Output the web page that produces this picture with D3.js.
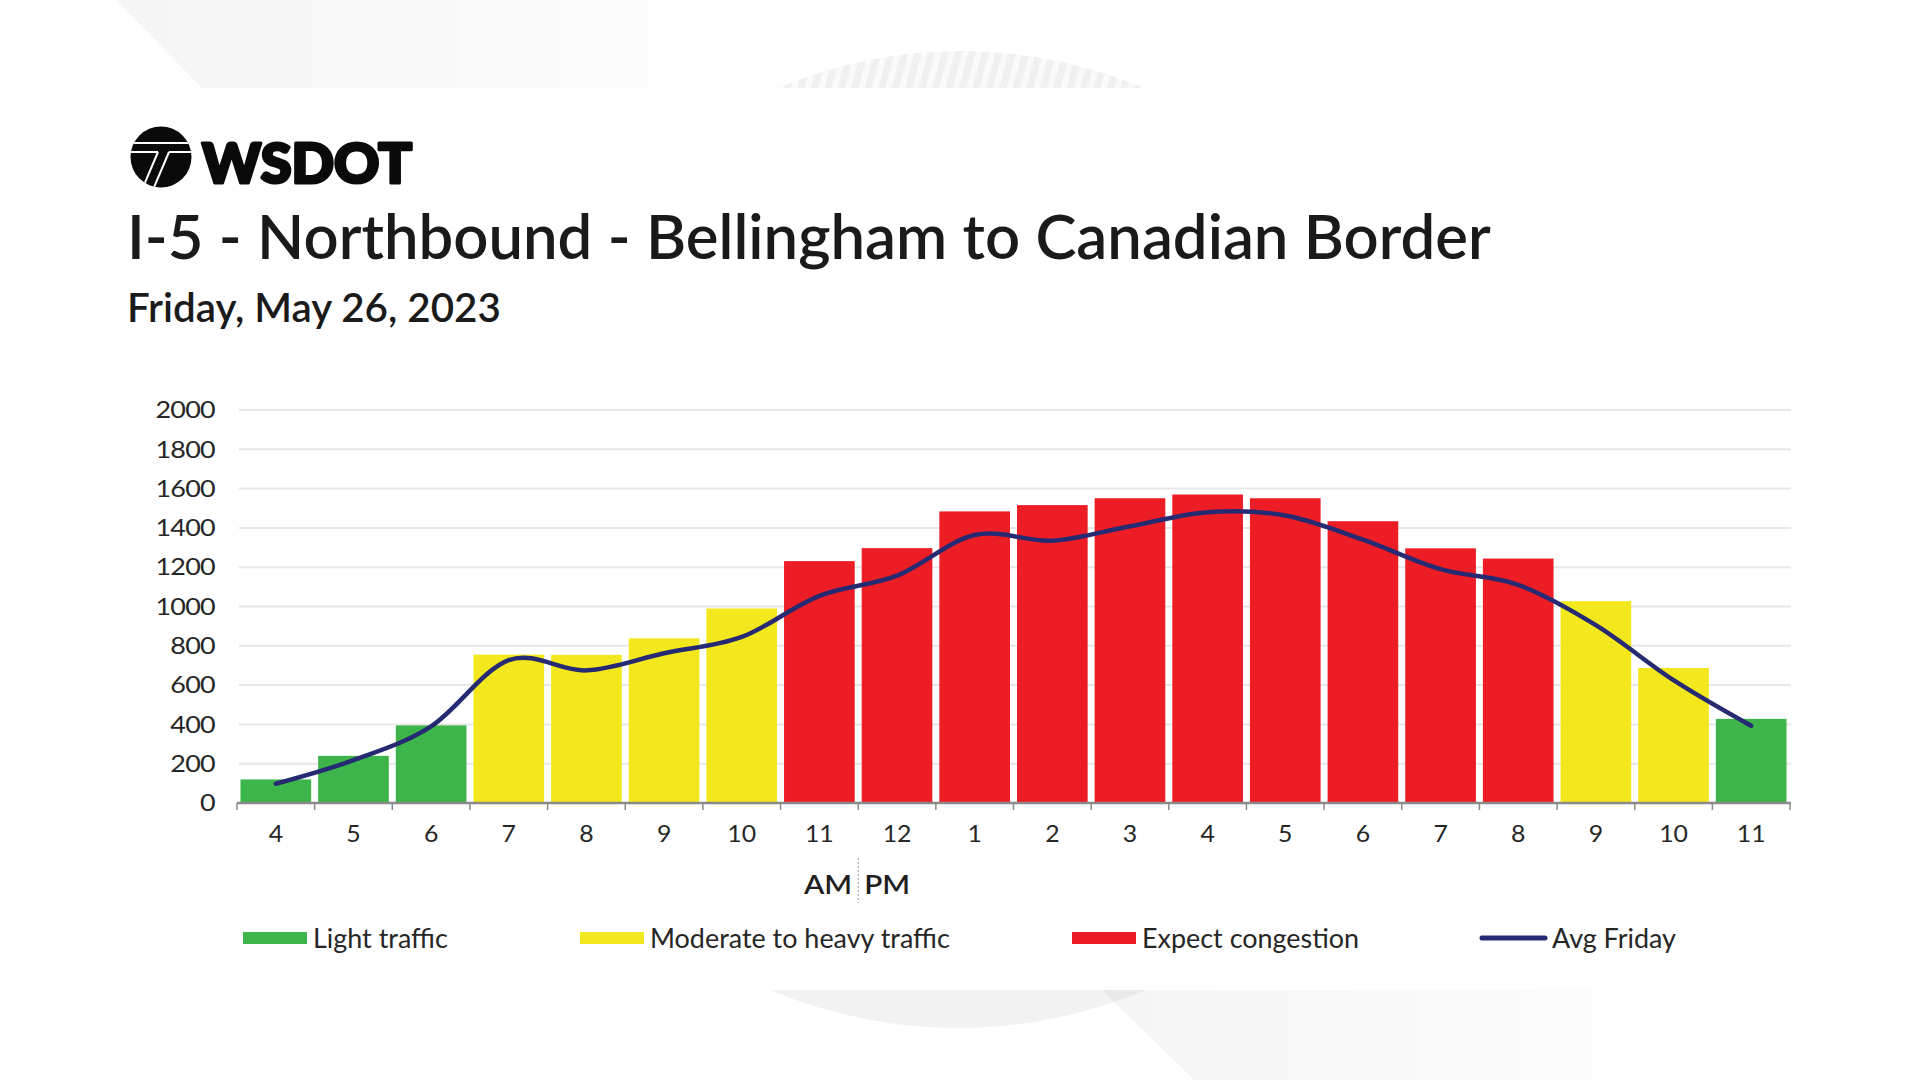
<!DOCTYPE html>
<html>
<head>
<meta charset="utf-8">
<script src="https://cdn.jsdelivr.net/npm/d3@7/dist/d3.min.js"></script>
<style>
  html, body { margin: 0; padding: 0; background: #ffffff; }
  svg { display: block; }
  text { font-family: Lato, "Open Sans", "Noto Sans", sans-serif; }
</style>
</head>
<body>
<svg id="chart" width="1920" height="1080"></svg>
<script>
// ---------------- data ----------------
const hourLabels = ["4","5","6","7","8","9","10","11","12","1","2","3","4","5","6","7","8","9","10","11"];
const volumes    = [120, 240, 395, 755, 754, 838, 990, 1231, 1297, 1484, 1516, 1551, 1570, 1551, 1434, 1296, 1244, 1027, 687, 428];
const avgFriday  = [98, 218, 390, 727, 675, 762, 845, 1054, 1157, 1364, 1335, 1408, 1480, 1463, 1340, 1190, 1110, 905, 625, 393];
const levels     = ["light","light","light","moderate","moderate","moderate","moderate",
                    "congestion","congestion","congestion","congestion","congestion","congestion",
                    "congestion","congestion","congestion","congestion","moderate","moderate","light"];
const yTicks     = [0, 200, 400, 600, 800, 1000, 1200, 1400, 1600, 1800, 2000];
const legendItems = [
  {key: "light", label: "Light traffic"},
  {key: "moderate", label: "Moderate to heavy traffic"},
  {key: "congestion", label: "Expect congestion"},
  {key: "avg", label: "Avg Friday"}
];
const titleText = "I-5 - Northbound - Bellingham to Canadian Border";
const subtitleText = "Friday, May 26, 2023";

// ---------------- styles ----------------
const colors = { light: "#3db54a", moderate: "#f2e81d", congestion: "#ec1d25", avg: "#262a72" };

const svg = d3.select("#chart");
const defs = svg.append("defs");

// ---------- background decorations ----------
const gL = defs.append("linearGradient").attr("id", "fadeL").attr("x1", 0).attr("x2", 1).attr("y1", 0).attr("y2", 0);
gL.append("stop").attr("offset", "0").attr("stop-color", "#000").attr("stop-opacity", 0.04);
gL.append("stop").attr("offset", "0.55").attr("stop-color", "#000").attr("stop-opacity", 0.02);
gL.append("stop").attr("offset", "1").attr("stop-color", "#000").attr("stop-opacity", 0);

const hatch = defs.append("pattern").attr("id", "hatch").attr("patternUnits", "userSpaceOnUse")
  .attr("width", 13).attr("height", 13).attr("patternTransform", "rotate(15)");
hatch.append("rect").attr("x", 0).attr("y", 0).attr("width", 13).attr("height", 13).attr("fill", "#fafafa");
hatch.append("rect").attr("x", 0).attr("y", 0).attr("width", 7).attr("height", 13).attr("fill", "#f0f0f0");

defs.append("clipPath").attr("id", "topBand").append("rect").attr("x", 0).attr("y", 0).attr("width", 1920).attr("height", 88);
defs.append("clipPath").attr("id", "botBand").append("rect").attr("x", 0).attr("y", 990).attr("width", 1920).attr("height", 90);

const bg = svg.append("g");
bg.append("path").attr("d", "M116,0 L720,0 L790,88 L202,88 Z").attr("fill", "url(#fadeL)");
bg.append("circle").attr("cx", 961).attr("cy", 522).attr("r", 471).attr("fill", "url(#hatch)").attr("clip-path", "url(#topBand)");
bg.append("circle").attr("cx", 958).attr("cy", 545).attr("r", 483).attr("fill", "#000").attr("fill-opacity", 0.05).attr("clip-path", "url(#botBand)");
bg.append("path").attr("d", "M1102,990 L1650,990 L1730,1080 L1194,1080 Z").attr("fill", "url(#fadeL)");

// ---------- logo ----------
const logo = svg.append("g");
defs.append("clipPath").attr("id", "logoClip").append("circle").attr("cx", 161).attr("cy", 157).attr("r", 30.5);
logo.append("circle").attr("cx", 161).attr("cy", 157).attr("r", 30.5).attr("fill", "#0a0a0a");
const lg = logo.append("g").attr("clip-path", "url(#logoClip)").attr("stroke", "#fff").attr("stroke-width", 2).attr("fill", "none");
lg.append("line").attr("x1", 128).attr("y1", 143).attr("x2", 194).attr("y2", 143);
lg.append("line").attr("x1", 128).attr("y1", 152).attr("x2", 158).attr("y2", 152);
lg.append("line").attr("x1", 169).attr("y1", 152).attr("x2", 194).attr("y2", 152);
lg.append("line").attr("x1", 158).attr("y1", 152).attr("x2", 141).attr("y2", 192);
lg.append("line").attr("x1", 169).attr("y1", 152).attr("x2", 152).attr("y2", 192);
logo.append("text").attr("x", 202).attr("y", 183).attr("font-size", 56).attr("font-weight", 900)
  .style("font-family", '"Lato Black", "Lato Heavy", Lato, sans-serif')
  .attr("fill", "#0a0a0a").attr("stroke", "#0a0a0a").attr("stroke-width", 3.2).attr("stroke-linejoin", "round")
  .attr("textLength", 210).attr("lengthAdjust", "spacingAndGlyphs").text("WSDOT");

// ---------- titles (fit to measured width) ----------
function fitText(sel, base, target) {
  sel.attr("font-size", base);
  const w = sel.node().getComputedTextLength();
  sel.attr("font-size", base * target / w);
}
const title = svg.append("text").attr("x", 127).attr("y", 259).attr("font-weight", 600).attr("fill", "#1a1a1a").text(titleText);
fitText(title, 60, 1364);
const subtitle = svg.append("text").attr("x", 127).attr("y", 322).attr("font-weight", 600).attr("fill", "#1a1a1a").text(subtitleText);
fitText(subtitle, 35, 374);

// ---------- scales ----------
const idx = d3.range(hourLabels.length);
const x = d3.scaleBand().domain(idx).range([237, 1790]).paddingInner(0.09).paddingOuter(0.045);
const y = d3.scaleLinear().domain([0, 2000]).range([803, 410]);

// gridlines
svg.append("g").selectAll("line").data(yTicks.filter(d => d > 0)).join("line")
  .attr("x1", 239).attr("x2", 1791).attr("y1", d => y(d)).attr("y2", d => y(d))
  .attr("stroke", "#e7e7e7").attr("stroke-width", 2);

// y labels (slightly widened glyphs as in the reference)
svg.append("g").selectAll("text").data(yTicks).join("text")
  .attr("transform", d => `translate(215,${y(d)}) scale(1.17,1)`).attr("dy", "0.36em").attr("text-anchor", "end")
  .attr("font-size", 23).attr("fill", "#262626").attr("letter-spacing", "-0.6px").text(d => d);

// bars
svg.append("g").selectAll("rect").data(idx).join("rect")
  .attr("x", i => x(i)).attr("width", x.bandwidth())
  .attr("y", i => y(volumes[i])).attr("height", i => y(0) - y(volumes[i]))
  .attr("fill", i => colors[levels[i]]);

// x axis line and ticks
const boundaries = d3.range(hourLabels.length + 1).map(i => 237 + i * (1553 / hourLabels.length));
svg.append("line").attr("x1", 237).attr("x2", 1791).attr("y1", y(0)).attr("y2", y(0)).attr("stroke", "#8a8a8a").attr("stroke-width", 2.5);
svg.append("g").selectAll("line").data(boundaries).join("line")
  .attr("x1", d => d).attr("x2", d => d).attr("y1", y(0)).attr("y2", y(0) + 7)
  .attr("stroke", "#8a8a8a").attr("stroke-width", 1.5);

// x labels
svg.append("g").selectAll("text").data(idx).join("text")
  .attr("transform", i => `translate(${x(i) + x.bandwidth() / 2},834) scale(1.08,1)`).attr("dy", "0.36em").attr("text-anchor", "middle")
  .attr("font-size", 23).attr("fill", "#262626").text(i => hourLabels[i]);

// AM | PM
const divX = boundaries[8];
svg.append("line").attr("x1", divX).attr("x2", divX).attr("y1", 858).attr("y2", 903)
  .attr("stroke", "#9a9a9a").attr("stroke-width", 1).attr("stroke-dasharray", "2,2");
svg.append("text").attr("transform", `translate(${divX - 6},884) scale(1.1,1)`).attr("dy", "0.36em").attr("text-anchor", "end")
  .attr("font-size", 27).attr("font-weight", 600).attr("fill", "#1f1f1f").text("AM");
svg.append("text").attr("transform", `translate(${divX + 6},884) scale(1.1,1)`).attr("dy", "0.36em").attr("text-anchor", "start")
  .attr("font-size", 27).attr("font-weight", 600).attr("fill", "#1f1f1f").text("PM");

// avg line
const line = d3.line().x(i => x(i) + x.bandwidth() / 2).y(i => y(avgFriday[i])).curve(d3.curveCardinal.tension(0));
svg.append("path").datum(idx).attr("d", line).attr("fill", "none")
  .attr("stroke", colors.avg).attr("stroke-width", 4.5).attr("stroke-linecap", "round");

// legend
const legendX = [243, 580, 1072, 1480];
const lgnd = svg.append("g").selectAll("g").data(legendItems).join("g")
  .attr("transform", (d, i) => `translate(${legendX[i]},938)`);
lgnd.each(function(d) {
  const g = d3.select(this);
  if (d.key === "avg") {
    g.append("line").attr("x1", 2).attr("x2", 65).attr("y1", 0).attr("y2", 0)
      .attr("stroke", colors.avg).attr("stroke-width", 5).attr("stroke-linecap", "round");
  } else {
    g.append("rect").attr("x", 0).attr("y", -6).attr("width", 64).attr("height", 12).attr("fill", colors[d.key]);
  }
});
const legendTexts = lgnd.append("text").attr("x", d => d.key === "avg" ? 72 : 70).attr("y", 0).attr("dy", "0.36em")
  .attr("font-size", 22).attr("fill", "#262626").text(d => d.label);
// calibrate legend font size on the longest label
const modNode = legendTexts.filter(d => d.key === "moderate").node();
const lw = modNode.getComputedTextLength();
legendTexts.attr("font-size", 22 * 300 / lw);
</script>
</body>
</html>
